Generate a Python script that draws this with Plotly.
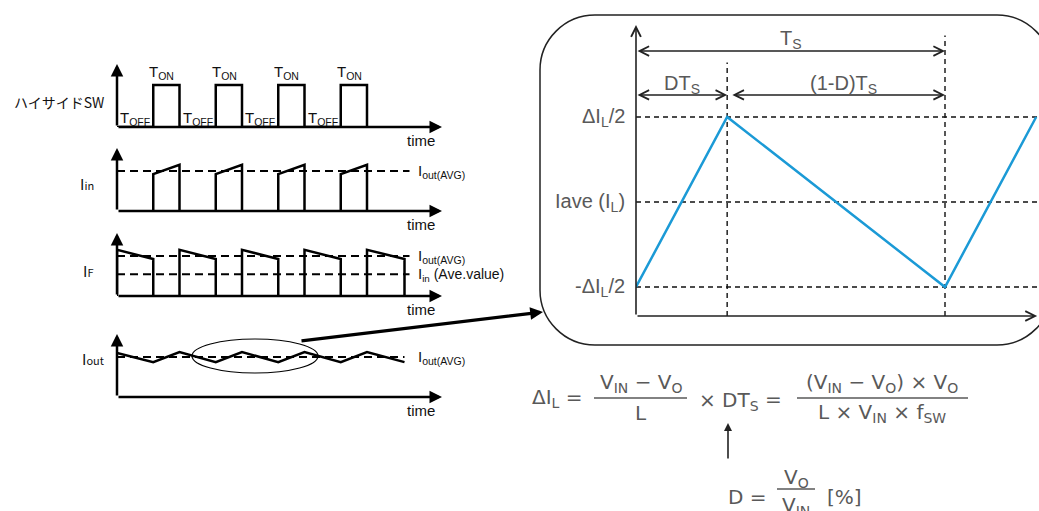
import plotly.graph_objects as go

W, H = 1039, 511

# ---------------- data: left waveforms (time in switching periods) ----------------
on_start = [0.58, 1.58, 2.58, 3.58]
on_end = [1.0, 2.0, 3.0, 4.0]
off_start = [0.0, 1.0, 2.0, 3.0, 4.0]
off_end = [0.58, 1.58, 2.58, 3.58, 4.6]
sw_high = 1.0
iin_ramp = [0.88, 1.10]
if_ramp = [1.10, 0.88]
iout_t = [0.0, 0.58, 1.0, 1.58, 2.0, 2.58, 3.0, 3.58, 4.0, 4.6]
iout_v = [1.05, 0.83, 1.07, 0.83, 1.07, 0.83, 1.07, 0.83, 1.07, 0.83]
iout_avg = 0.95
iin_avg = 0.52
t_end = 5.2
avg_end = 4.68
panel_names = ["ハイサイドSW", "I<span style='font-size:11px'>in</span>",
               "I<span style='font-size:11px'>F</span>",
               "I<span style='font-size:11px'>out</span>"]

# ---------------- data: inductor ripple (time in Ts) ----------------
duty = 0.295
il_t = [0.0, duty, 1.0, 1.0 + duty]
il_v = [-0.5, 0.5, -0.5, 0.5]
il_levels = [0.5, 0.0, -0.5]
il_level_labels = ["ΔI<sub>L</sub>/2", "Iave (I<sub>L</sub>)", "-ΔI<sub>L</sub>/2"]

# ---------------- layout helpers ----------------
def xdom(a, b):
    return [a / W, b / W]

def ydom(top, bot):
    return [1 - bot / H, 1 - top / H]

LX0, LX1 = 117, 442
baselines = [127, 211, 296, 397]
PU = 42.0
YMAX = 1.5
RX0, RX1 = 636, 1039
RPX = 309.0
RPY = 170.0
R_TOP, R_BOT, R_HI = 25, 316, 117
r_xmax = (RX1 - RX0) / RPX
r_ymin = -0.5 - (R_BOT - (R_HI + RPY)) / RPY
r_ymax = 0.5 + (R_HI - R_TOP) / RPY

BLACK = "#000000"
GRAY = "#595959"
BLUE = "#1b9ad6"
LFONT = "Liberation Sans, Arial, sans-serif"
MFONT = "DejaVu Sans, Verdana, sans-serif"

fig = go.Figure()
layout = dict(
    width=W, height=H, margin=dict(l=0, r=0, t=0, b=0),
    paper_bgcolor="white", plot_bgcolor="rgba(0,0,0,0)",
    showlegend=False, font=dict(family=LFONT, color="#111"),
    xaxis=dict(domain=[0, 1], range=[0, W], visible=False, fixedrange=True),
    yaxis=dict(domain=[0, 1], range=[H, 0], visible=False, fixedrange=True),
)
for i, b in enumerate(baselines):
    n = i + 2
    layout[f"xaxis{n}"] = dict(domain=xdom(LX0, LX1), range=[0, (LX1 - LX0) / 62.5],
                               visible=False, anchor=f"y{n}", fixedrange=True)
    layout[f"yaxis{n}"] = dict(domain=ydom(b - YMAX * PU, b), range=[0, YMAX],
                               visible=False, anchor=f"x{n}", fixedrange=True)
layout["xaxis6"] = dict(domain=xdom(RX0, RX1), range=[0, r_xmax], visible=False,
                        anchor="y6", fixedrange=True)
layout["yaxis6"] = dict(domain=ydom(R_TOP, R_BOT), range=[r_ymin, r_ymax], visible=False,
                        anchor="x6", fixedrange=True)

annotations = []
shapes = []

def line(x, y, n, color=BLACK, width=2.5, dash=None):
    fig.add_trace(go.Scatter(x=x, y=y, xaxis=f"x{n}", yaxis=f"y{n}", mode="lines",
                             line=dict(color=color, width=width, dash=dash),
                             hoverinfo="skip", showlegend=False))

def arrow(x, y, ax, ay, ref, head=2, size=1.0, width=2.5, color=BLACK, both=False):
    d = dict(x=x, y=y, ax=ax, ay=ay, xref=f"x{ref}" if ref else "x",
             yref=f"y{ref}" if ref else "y", axref=f"x{ref}" if ref else "x",
             ayref=f"y{ref}" if ref else "y", showarrow=True, text="",
             arrowhead=head, arrowsize=size, arrowwidth=width, arrowcolor=color,
             standoff=0, startstandoff=0)
    if both:
        d.update(arrowside="end+start", startarrowhead=head, startarrowsize=size)
    annotations.append(d)

def text(x, y, s, ref="", size=15, color="#111", family=LFONT, xa="center", ya="middle", **kw):
    d = dict(x=x, y=y, text=s, xref=f"x{ref}" if ref else "x", yref=f"y{ref}" if ref else "y",
             showarrow=False, xanchor=xa, yanchor=ya,
             font=dict(size=size, color=color, family=family))
    d.update(kw)
    annotations.append(d)

# ---------- left panels ----------
# panel 1: high-side switch
sx, sy = [0.0], [0.0]
for s, e in zip(on_start, on_end):
    sx += [s, s, e, e]
    sy += [0, sw_high, sw_high, 0]
line(sx, sy, 2)
for s in on_start:
    text(s - 0.1, 1.13, "T<sub>ON</sub>", ref=2, size=15, xa="left", ya="bottom", yshift=-4)
for s in [0.0] + on_end[:3]:
    text(s + 0.02, 0.0, "T<sub>OFF</sub>", ref=2, size=15, xa="left", ya="bottom", yshift=-3)

# panel 2: Iin
ix, iy = [], []
for s, e in zip(on_start, on_end):
    ix += [s, s, e, e, None]
    iy += [0, iin_ramp[0], iin_ramp[1], 0, None]
line(ix, iy, 3)
line([0, avg_end], [iout_avg, iout_avg], 3, width=2, dash="8px,5px")
text(avg_end + 0.1, iout_avg, "I<sub>out(AVG)</sub>", ref=3, size=15, xa="left")

# panel 3: IF
fx, fy = [], []
for s, e in zip(off_start, off_end):
    fx += [s, s, e, e, None]
    fy += [0, if_ramp[0], if_ramp[1], 0, None]
line(fx, fy, 4)
line([0, avg_end], [iout_avg, iout_avg], 4, width=2, dash="8px,5px")
line([0, avg_end], [iin_avg, iin_avg], 4, width=2, dash="8px,5px")
text(avg_end + 0.1, iout_avg, "I<sub>out(AVG)</sub>", ref=4, size=15, xa="left")
text(avg_end + 0.1, iin_avg,
     "<span style='font-size:15px'>I</span><sub>in</sub> (Ave.value)",
     ref=4, size=14, xa="left")

# panel 4: Iout
line(iout_t, iout_v, 5)
line([0, off_end[-1]], [iout_avg, iout_avg], 5, width=2, dash="8px,5px")
text(avg_end + 0.1, iout_avg, "I<sub>out(AVG)</sub>", ref=5, size=15, xa="left")

for i, b in enumerate(baselines):
    n = i + 2
    arrow(t_end, 0, 0, 0, n, head=2, size=1.0, width=2.5)
    arrow(0, YMAX, 0, 0, n, head=2, size=1.0, width=2.5)
    text(4.86, 0, "time", ref=n, size=15, ya="top", yshift=-3)

name_pos = [(12, 102, 14), (78, 183, 15), (81, 270, 15), (80, 358, 15)]
for (px, py, fs), nm in zip(name_pos, panel_names):
    text(px, py, nm, size=fs, xa="left", family="Noto Sans CJK JP, Liberation Sans")

# ellipse + big arrow
shapes.append(dict(type="circle", xref="x", yref="y", x0=192, x1=318, y0=339, y1=373,
                   line=dict(color=BLACK, width=1.2)))
arrow(543, 312, 300, 341, "", head=2, size=0.8, width=3.2)

# rounded rectangle
L, T, R, B, r = 540, 15, 1052, 345, 55
k = 0.5523 * r
path = (f"M {L + r},{T} L {R - r},{T} C {R - r + k},{T} {R},{T + r - k} {R},{T + r} "
        f"L {R},{B - r} C {R},{B - r + k} {R - r + k},{B} {R - r},{B} "
        f"L {L + r},{B} C {L + r - k},{B} {L},{B - r + k} {L},{B - r} "
        f"L {L},{T + r} C {L},{T + r - k} {L + r - k},{T} {L + r},{T} Z")
shapes.append(dict(type="path", path=path, xref="x", yref="y",
                   line=dict(color="#222", width=1.5)))

# ---------- right panel ----------
for lv in il_levels:
    line([0, r_xmax], [lv, lv], 6, color="#111", width=1.4, dash="5px,4px")
line([duty, duty], [r_ymin, 0.82], 6, color="#111", width=1.4, dash="5px,4px")
line([1.0, 1.0], [r_ymin, 0.98], 6, color="#111", width=1.4, dash="5px,4px")
line(il_t, il_v, 6, color=BLUE, width=2.5)

arrow(0, r_ymax, 0, r_ymin, 6, head=5, size=1.2, width=1.6, color="#222")
arrow(r_xmax - 0.006, r_ymin, 0, r_ymin, 6, head=5, size=1.2, width=1.6, color="#222")
arrow(1.0, 0.888, 0, 0.888, 6, head=5, size=1.25, width=1.5, color="#222", both=True)
arrow(duty, 0.63, 0, 0.63, 6, head=5, size=1.25, width=1.5, color="#222", both=True)
arrow(1.0, 0.63, duty + 0.012, 0.63, 6, head=5, size=1.25, width=1.5, color="#222", both=True)

text(0.5, 0.953, "T<sub>S</sub>", ref=6, size=20, color=GRAY)
text(duty / 2, 0.69, "DT<sub>S</sub>", ref=6, size=20, color=GRAY)
text(0.67, 0.69, "(1-D)T<sub>S</sub>", ref=6, size=20, color=GRAY)
# level labels sit left of the right-hand axis (outside its range -> overlay coords)
for lv, lb in zip(il_levels, il_level_labels):
    text(RX0 - 0.03 * RPX, R_HI + (0.5 - lv) * RPY, lb, size=20, color=GRAY, xa="right")

# ---------- formulas ----------
FS = 20
text(530, 398, "ΔI<sub>L</sub> =", size=FS, color=GRAY, family=MFONT, xa="left")
text(641, 383, "V<sub>IN</sub> − V<sub>O</sub>", size=FS, color=GRAY, family=MFONT)
text(641, 413, "L", size=FS, color=GRAY, family=MFONT)
shapes.append(dict(type="line", xref="x", yref="y", x0=594, x1=687, y0=398, y1=398,
                   line=dict(color=GRAY, width=1.3)))
text(697, 401, "× DT<sub>S</sub>", size=FS, color=GRAY, family=MFONT, xa="left")
text(773, 399, "=", size=FS, color=GRAY, family=MFONT)
text(882, 383, "(V<sub>IN</sub> − V<sub>O</sub>) × V<sub>O</sub>", size=FS, color=GRAY, family=MFONT)
text(882, 413, "L × V<sub>IN</sub> × f<sub>SW</sub>", size=FS, color=GRAY, family=MFONT)
shapes.append(dict(type="line", xref="x", yref="y", x0=797, x1=968, y0=398, y1=398,
                   line=dict(color=GRAY, width=1.3)))
arrow(728, 423, 728, 460, "", head=2, size=1.0, width=1.6, color="#222")

text(726, 497, "D =", size=FS, color=GRAY, family=MFONT, xa="left")
text(796, 478, "V<sub>O</sub>", size=FS, color=GRAY, family=MFONT)
text(796, 506, "V<sub>IN</sub>", size=FS, color=GRAY, family=MFONT)
shapes.append(dict(type="line", xref="x", yref="y", x0=777, x1=815, y0=489, y1=489,
                   line=dict(color=GRAY, width=1.3)))
text(825, 497, "[%]", size=FS, color=GRAY, family=MFONT, xa="left")

fig.add_trace(go.Scatter(x=[0], y=[0], mode="markers", marker=dict(opacity=0),
                         hoverinfo="skip", showlegend=False))
layout["annotations"] = annotations
layout["shapes"] = shapes
fig.update_layout(**layout)
fig.write_html("out.html", config={"displayModeBar": False, "staticPlot": True},
               post_script="document.body.style.margin='0px';document.body.style.overflow='hidden';")
